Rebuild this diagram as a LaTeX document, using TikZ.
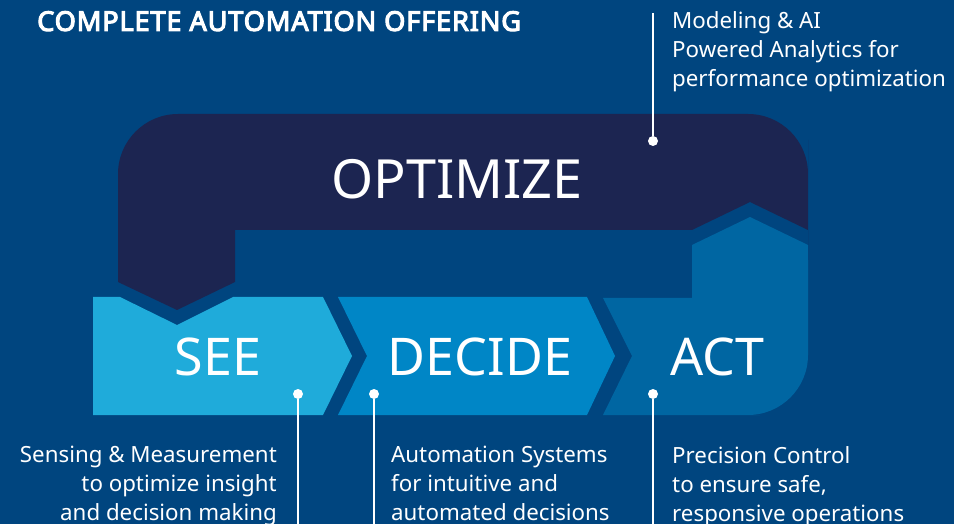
\documentclass[tikz,border=0pt]{standalone}
\usepackage{fontspec}
\setmainfont{Noto Sans}
\newfontfamily\titlefont{Noto Sans}[AutoFakeBold=4, LetterSpace=3]
\usepackage{tikz}

\definecolor{bgblue}{HTML}{00457F}
\definecolor{navy}{HTML}{1C2551}
\definecolor{seeblue}{HTML}{1FABDA}
\definecolor{decideblue}{HTML}{0086C6}
\definecolor{actblue}{HTML}{0066A2}

\tikzset{
  phase/.style={text=white, font=\fontsize{52}{52}\selectfont, inner sep=0pt},
  desc/.style={text=white, font=\fontsize{22.3}{29}\selectfont, inner sep=0pt},
  pin/.style={draw=white, line width=2pt},
  pindot/.style={circle, fill=white, inner sep=0pt, minimum size=10pt},
}

\begin{document}
\begin{tikzpicture}[x=1pt,y=-1pt]
 \fill[bgblue] (0,0) rectangle (954,524);
 % optimize band
 \fill[navy] (118,230) [rounded corners=60pt] -- (118,114) -- (808,114) -- (808,200)
   [sharp corners] -- (808,230) -- (750,202) -- (692,230) -- (235,230) -- (235,282)
   -- (177,310) -- (118,282) -- cycle;
 % see / decide / act
 \fill[seeblue] (93,297) -- (120,297) -- (177,325) -- (233,297) -- (323,297)
   -- (352,356) -- (323,415) -- (93,415) -- cycle;
 \fill[decideblue] (338,297) -- (587,297) -- (615,356) -- (587,415) -- (338,415)
   -- (367,356) -- cycle;
 \fill[actblue] (603,298) -- (692,298) -- (692,245) -- (750,217) -- (808,245)
   -- (808,300) [rounded corners=60pt] -- (808,415) -- (700,415)
   [sharp corners] -- (603,415) -- (632,356) -- cycle;

 \node[anchor=north west, text=white, inner sep=0pt,
   font=\titlefont\bfseries\fontsize{27.2}{30}\selectfont] (title) at (37,11) {COMPLETE AUTOMATION OFFERING};

 \node[phase, font=\fontsize{54}{54}\selectfont] (optimize) at (457,179) {OPTIMIZE};
 \node[phase] (see) at (218,357) {SEE};
 \node[phase] (decide) at (480,357) {DECIDE};
 \node[phase] (act) at (717,357) {ACT};

 % pins
 \node[pindot] (optdot) at (653,141) {};
 \coordinate (optend) at (653,13);
 \node[pindot] (seedot) at (298,394) {};
 \coordinate (seeend) at (298,524);
 \node[pindot] (decidedot) at (374,394) {};
 \coordinate (decideend) at (374,524);
 \node[pindot] (actdot) at (653,394) {};
 \coordinate (actend) at (653,524);
 \draw[pin] (optdot) -- (optend);
 \draw[pin] (seedot) -- (seeend);
 \draw[pin] (decidedot) -- (decideend);
 \draw[pin] (actdot) -- (actend);

 \node[desc, anchor=north west, align=left] (optdesc) at (672,11)
   {Modeling \& AI\\Powered Analytics for\\performance optimization};
 \node[desc, anchor=north east, align=right] (seedesc) at (277,446)
   {Sensing \& Measurement\\to optimize insight\\and decision making};
 \node[desc, anchor=north west, align=left] (decidedesc) at (391,446)
   {Automation Systems\\for intuitive and\\automated decisions};
 \node[desc, anchor=north west, align=left] (actdesc) at (672,446)
   {Precision Control\\to ensure safe,\\responsive operations};
\end{tikzpicture}
\end{document}
